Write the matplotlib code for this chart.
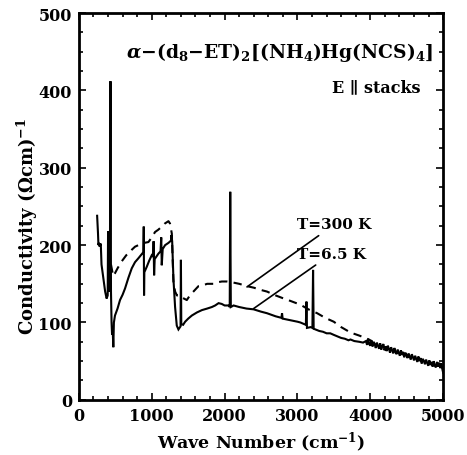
import matplotlib
matplotlib.use("Agg")
import matplotlib.pyplot as plt
from matplotlib.ticker import MultipleLocator

plt.rcParams['font.family'] = ['DejaVu Serif', 'DejaVu Sans']
plt.rcParams['font.weight'] = 'bold'
plt.rcParams['mathtext.fontset'] = 'dejavuserif'
plt.rcParams['mathtext.default'] = 'bf'

# T = 6.5 K (solid)
x_low = [250, 262, 268, 275, 285, 300, 310, 330, 360, 380, 395, 400, 405, 415, 425, 430, 433, 436,
         440, 448, 455, 462, 472, 480, 495, 530, 564, 600, 633, 680, 725, 770, 816, 850, 885, 890,
         894, 898, 931, 965, 1000, 1020, 1025, 1032, 1040, 1091, 1120, 1130, 1137, 1150, 1183, 1230,
         1265, 1270, 1280, 1297, 1320, 1343, 1366, 1395, 1400, 1405, 1430, 1458, 1500, 1550, 1620,
         1688, 1760, 1825, 1870, 1917, 1960, 2000, 2054, 2070, 2077, 2085, 2123, 2200, 2300, 2398,
         2500, 2581, 2700, 2780, 2788, 2796, 2900, 3000, 3040, 3090, 3115, 3123, 3130, 3180, 3205,
         3214, 3222, 3246, 3300, 3350, 3400, 3450, 3498, 3550, 3600, 3650, 3700, 3728, 3780, 3850,
         3900,
         3940, 3955, 3970, 3985, 4000, 4015, 4030, 4045, 4060, 4075, 4090, 4105, 4120, 4135, 4150,
         4165, 4180, 4195, 4210, 4225, 4240, 4255, 4270, 4285, 4300, 4315, 4330, 4345, 4360, 4375,
         4390, 4405, 4420, 4435, 4450, 4465, 4480, 4495, 4510, 4525, 4540, 4555, 4570, 4585, 4600,
         4615, 4630, 4645, 4660, 4675, 4690, 4705, 4720, 4735, 4750, 4765, 4780, 4795, 4810, 4825,
         4840, 4855, 4870, 4885, 4900, 4915, 4930, 4945, 4960, 4975, 4990, 5000]
y_low = [238, 215, 200, 203, 198, 202, 175, 161, 140, 131, 135, 218, 150, 140, 160, 300, 412, 300,
         140, 100, 84, 95, 68, 100, 109, 118, 129, 136, 144, 158, 170, 178, 183, 187, 191, 224,
         135, 165, 172, 180, 187, 185, 205, 161, 182, 189, 192, 210, 174, 195, 200, 203,
         206, 213, 205, 157, 120, 96, 91, 95, 181, 98, 97, 101, 105, 109, 113,
         116, 118, 120, 122, 125, 124, 122, 122, 120, 269, 120, 122, 120, 118, 117,
         114, 112, 108, 106, 112, 105, 103, 101, 100, 98, 97, 127, 93, 94, 93,
         168, 92, 91, 89, 88, 86, 86, 84, 82, 80, 79, 77, 78, 76, 75,
         74,
         76, 71, 79, 72, 70, 77, 69, 75, 72, 67, 74, 70, 66, 73, 65,
         70, 72, 64, 69, 63, 70, 66, 61, 68, 64, 60, 67, 62, 59, 65,
         61, 57, 64, 58, 62, 55, 61, 58, 54, 60, 56, 52, 59, 55, 51,
         57, 53, 49, 56, 50, 54, 47, 53, 50, 46, 52, 48, 44, 51, 45,
         49, 43, 50, 44, 42, 49, 43, 48, 41, 47, 39, 35]

# T = 300 K (dashed)
x_high = [440, 470, 491, 530, 587, 650, 697, 725, 770, 816, 860, 900, 954, 1000, 1045, 1090, 1137,
          1180, 1229, 1250, 1275, 1297, 1320, 1345, 1389, 1420, 1481, 1530, 1572, 1641, 1700, 1760,
          1847, 1900, 1963, 2032, 2100, 2200, 2307, 2400, 2500, 2581, 2700, 2811, 2900, 3040, 3150,
          3270, 3380, 3498, 3600, 3728, 3850, 3957, 4020]
y_high = [175, 160, 163, 170, 179, 187, 191, 194, 198, 200, 202, 203, 204, 210, 217, 220, 224,
          228, 231, 228, 215, 153, 140, 135, 135, 132, 129, 136, 140, 147, 148, 150,
          150, 152, 153, 153, 152, 150, 147, 145, 142, 140, 135, 131, 128, 123, 117,
          112, 106, 101, 94, 87, 83, 79, 76]

fig = plt.figure(figsize=(4.67, 4.56), dpi=100)
ax = fig.add_axes([0.169, 0.121, 0.780, 0.848])

ax.plot(x_low, y_low, color='black', lw=1.5, solid_joinstyle='miter')
ax.plot(x_high, y_high, color='black', lw=1.5, linestyle=(0, (4, 3)))

ax.set_xlim(0, 5000)
ax.set_ylim(0, 500)
ax.xaxis.set_major_locator(MultipleLocator(1000))
ax.xaxis.set_minor_locator(MultipleLocator(200))
ax.yaxis.set_major_locator(MultipleLocator(100))
ax.yaxis.set_minor_locator(MultipleLocator(25))
ax.tick_params(which='both', direction='in', top=True, right=True, width=1.2,
               labelsize=11.5, pad=5)
ax.tick_params(which='major', length=5)
ax.tick_params(which='minor', length=3)
for s in ax.spines.values():
    s.set_linewidth(2)
for lbl in ax.get_xticklabels() + ax.get_yticklabels():
    lbl.set_fontweight('bold')

ax.set_xlabel('Wave Number (cm$^{-1}$)', fontsize=12.5, fontweight='bold')
ax.xaxis.set_label_coords(0.5, -0.078)
ax.set_ylabel('Conductivity ($\\Omega$cm)$^{-1}$', fontsize=13, fontweight='bold')
ax.yaxis.set_label_coords(-0.108, 0.45)

ax.text(4870, 450, '$\\mathit{\\alpha}$\u2212(d$_8$\u2212ET)$_2$[(NH$_4$)Hg(NCS)$_4$]',
        ha='right', va='center', fontsize=13.5, fontweight='bold')
ax.text(4690, 405, 'E \u2225 stacks', ha='right', va='center', fontsize=11.5, fontweight='bold')

ax.annotate('T=300 K', xy=(2307, 146), xytext=(2999, 227), ha='left', va='center',
            fontsize=11, fontweight='bold',
            arrowprops=dict(arrowstyle='-', color='black', lw=1.2, shrinkA=2, shrinkB=0))
ax.annotate('T=6.5 K', xy=(2398, 118), xytext=(2999, 189), ha='left', va='center',
            fontsize=11, fontweight='bold',
            arrowprops=dict(arrowstyle='-', color='black', lw=1.2, shrinkA=2, shrinkB=0))

fig.savefig('out.png', dpi=100)
